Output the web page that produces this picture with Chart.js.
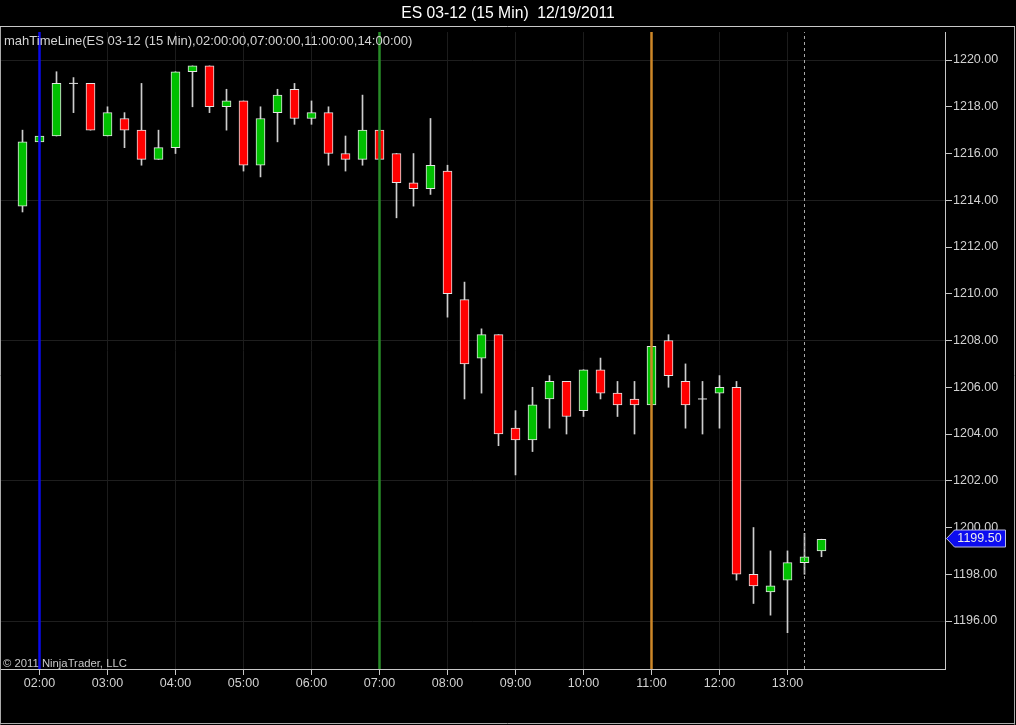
<!DOCTYPE html>
<html>
<head>
<meta charset="utf-8">
<style>
html,body{margin:0;padding:0;background:#000;overflow:hidden}
#wrap{position:relative;width:1016px;height:725px}
canvas{display:block}
</style>
<script src="https://cdn.jsdelivr.net/npm/chart.js@4.4.0/dist/chart.umd.min.js"></script>
</head>
<body>
<div id="wrap"><canvas id="c" width="1016" height="725"></canvas></div>
<script>
// ---- data ----
const barTimes = ['01:45','02:00','02:15','02:30','02:45','03:00','03:15','03:30','03:45','04:00','04:15','04:30',
  '04:45','05:00','05:15','05:30','05:45','06:00','06:15','06:30','06:45','07:00','07:15','07:30',
  '07:45','08:00','08:15','08:30','08:45','09:00','09:15','09:30','09:45','10:00','10:15','10:30',
  '10:45','11:00','11:15','11:30','11:45','12:00','12:15','12:30','12:45','13:00','13:15','13:30'];
const opens = [1213.75,1216.50,1216.75,1219.00,1219.00,1216.75,1217.50,1217.00,1215.75,1216.25,1219.50,1219.75,
  1218.00,1218.25,1215.50,1217.75,1218.75,1217.50,1217.75,1216.00,1215.75,1217.00,1216.00,1214.75,
  1214.50,1215.25,1209.75,1207.25,1208.25,1204.25,1203.75,1205.50,1206.25,1205.00,1206.75,1205.75,
  1205.50,1205.25,1208.00,1206.25,1205.50,1205.75,1206.00,1198.00,1197.25,1197.75,1198.50,1199.00];
const highs = [1217.00,1216.75,1219.50,1219.25,1219.00,1218.00,1217.75,1219.00,1217.00,1219.50,1219.75,1219.75,
  1218.75,1218.25,1218.00,1218.75,1219.00,1218.25,1218.00,1216.75,1218.50,1217.00,1216.00,1216.00,
  1217.50,1215.50,1210.50,1208.50,1208.25,1205.00,1206.00,1206.50,1206.25,1206.75,1207.25,1206.25,
  1206.25,1207.75,1208.25,1207.00,1206.25,1206.50,1206.25,1200.00,1199.00,1199.00,1199.75,1199.50];
const lows = [1213.50,1216.50,1216.75,1217.75,1217.00,1216.75,1216.25,1215.50,1215.75,1216.00,1218.00,1217.75,
  1217.00,1215.25,1215.00,1216.50,1217.25,1217.25,1215.50,1215.25,1215.50,1215.75,1213.25,1213.75,
  1214.25,1209.00,1205.50,1205.75,1203.50,1202.25,1203.25,1204.25,1204.00,1204.75,1205.50,1204.75,
  1204.00,1205.25,1206.00,1204.25,1204.00,1204.25,1197.75,1196.75,1196.25,1195.50,1198.00,1198.75];
const closes = [1216.50,1216.75,1219.00,1219.00,1217.00,1217.75,1217.00,1215.75,1216.25,1219.50,1219.75,1218.00,
  1218.25,1215.50,1217.50,1218.50,1217.50,1217.75,1216.00,1215.75,1217.00,1215.75,1214.75,1214.50,
  1215.50,1210.00,1207.00,1208.25,1204.00,1203.75,1205.25,1206.25,1204.75,1206.75,1205.75,1205.25,
  1205.25,1207.75,1206.50,1205.25,1205.50,1206.00,1198.00,1197.50,1197.50,1198.50,1198.75,1199.50];
const xTickLabels = ['02:00','03:00','04:00','05:00','06:00','07:00','08:00','09:00','10:00','11:00','12:00','13:00'];
const yTickLabels = ['1196.00','1198.00','1200.00','1202.00','1204.00','1206.00','1208.00','1210.00','1212.00','1214.00','1216.00','1218.00','1220.00'];
const timeLineTimes = ['02:00','07:00','11:00'];
const cursorTime = '13:15';
const chartTitle = 'ES 03-12 (15 Min)  12/19/2011';
const indicatorLabel = 'mahTimeLine(ES 03-12 (15 Min),02:00:00,07:00:00,11:00:00,14:00:00)';
const copyrightLabel = '\u00A9 2011 NinjaTrader, LLC';

// ---- helpers ----
const toMin = s => { const p = s.split(':'); return (+p[0]) * 60 + (+p[1]); };
const xs = barTimes.map(toMin);
const xTickValues = xTickLabels.map(toMin);
const yTickValues = yTickLabels.map(parseFloat);
const FONT = '"Liberation Sans", Arial, sans-serif';

// axis ranges (view window)
const X_MIN = 85.147, X_MAX = 918.971;
const Y_MIN = 1193.947, Y_MAX = 1221.198;

const GREEN = 'rgb(0,192,0)', RED = 'rgb(255,0,0)';

const wickData = xs.map((t, i) => ({x: t, y: [lows[i], highs[i]]}));
const bodyData = [], bodyColors = [];
xs.forEach((t, i) => {
  if (opens[i] !== closes[i]) {
    bodyData.push({x: t, y: [opens[i], closes[i]]});
    bodyColors.push(closes[i] > opens[i] ? GREEN : RED);
  }
});
const dojiData = xs.map((t, i) => ({x: t, y: closes[i], d: opens[i] === closes[i]})).filter(p => p.d);

const vLineColors = ['rgb(10,10,235)', 'rgb(40,140,40)', 'rgb(205,135,40)'];
const vLineSets = timeLineTimes.map((s, k) => ({
  type: 'line', label: 'tl' + k,
  data: [{x: toMin(s), y: Y_MIN}, {x: toMin(s), y: Y_MAX}],
  borderColor: vLineColors[k], borderWidth: 2.5, pointRadius: 0, pointHoverRadius: 0, order: 0
}));

const framePlugin = {
  id: 'frame',
  beforeDraw(chart) {
    const c = chart.ctx;
    c.save();
    c.fillStyle = '#000';
    c.fillRect(0, 0, chart.width, chart.height);
    c.restore();
  },
  afterDraw(chart) {
    const c = chart.ctx;
    c.save();
    // outer frame
    c.strokeStyle = 'rgb(200,200,200)';
    c.lineWidth = 1;
    c.beginPath();
    c.moveTo(0, 26.5); c.lineTo(1015, 26.5);
    c.stroke();
    c.strokeStyle = 'rgb(170,170,170)';
    c.beginPath();
    c.moveTo(0.5, 27); c.lineTo(0.5, 724.5);
    c.moveTo(1014.5, 27); c.lineTo(1014.5, 724.5);
    c.moveTo(0, 723.5); c.lineTo(1015, 723.5);
    c.stroke();
    // texts
    c.fillStyle = 'rgb(212,212,212)';
    c.font = '13px ' + FONT;
    c.textAlign = 'left';
    c.textBaseline = 'alphabetic';
    c.fillText(indicatorLabel, 4, 45);
    c.fillStyle = 'rgb(200,200,200)';
    c.font = '11.3px ' + FONT;
    c.fillText(copyrightLabel, 3, 666.5);
    // last price flag
    const ys = chart.scales.y;
    const last = closes[closes.length - 1];
    const yc = Math.round(ys.getPixelForValue(last)) - 0.5;
    c.beginPath();
    c.moveTo(946.5, yc);
    c.lineTo(954.5, yc - 8.5);
    c.lineTo(1005.5, yc - 8.5);
    c.lineTo(1005.5, yc + 8.5);
    c.lineTo(954.5, yc + 8.5);
    c.closePath();
    c.fillStyle = 'rgb(12,12,240)';
    c.fill();
    c.strokeStyle = 'rgb(190,190,220)';
    c.stroke();
    c.fillStyle = 'rgb(235,235,235)';
    c.font = '12.5px ' + FONT;
    c.textAlign = 'center';
    c.textBaseline = 'middle';
    c.fillText(last.toFixed(2), 979.5, yc + 0.5);
    c.restore();
  }
};

new Chart(document.getElementById('c'), {
  type: 'bar',
  data: {
    datasets: [
      {type: 'bar', label: 'wicks', data: wickData, backgroundColor: 'rgb(205,205,205)', borderWidth: 0,
       barThickness: 1, grouped: false, order: 3},
      {type: 'bar', label: 'bodies', data: bodyData, backgroundColor: bodyColors, borderColor: 'rgb(228,228,228)',
       borderWidth: 1, borderSkipped: false, barThickness: 9, grouped: false, order: 2},
      {type: 'scatter', label: 'doji', data: dojiData, pointStyle: 'line', pointRadius: 4.5, pointHoverRadius: 4.5,
       borderColor: 'rgb(220,220,220)', borderWidth: 1, showLine: false, order: 1},
      ...vLineSets,
      {type: 'line', label: 'cursor', data: [{x: toMin(cursorTime), y: Y_MIN}, {x: toMin(cursorTime), y: Y_MAX}],
       borderColor: 'rgb(170,170,170)', borderWidth: 1, borderDash: [3, 3], pointRadius: 0, pointHoverRadius: 0, order: 0}
    ]
  },
  options: {
    responsive: false,
    devicePixelRatio: 1,
    animation: false,
    events: [],
    layout: {padding: 0, autoPadding: false},
    plugins: {
      legend: {display: false},
      tooltip: {enabled: false},
      title: {display: true, text: chartTitle, color: '#ffffff',
              font: {family: FONT, size: 15.7, weight: 'normal'}, padding: {top: 4.2, bottom: 9}}
    },
    scales: {
      x: {
        type: 'linear', min: X_MIN, max: X_MAX, offset: false,
        afterBuildTicks: s => { s.ticks = xTickValues.map(v => ({value: v})); },
        afterFit: s => { s.height = 56; s.paddingLeft = 0; s.paddingRight = 0; },
        ticks: {autoSkip: false, maxRotation: 0, minRotation: 0, color: 'rgb(210,210,210)',
                font: {family: FONT, size: 12.5}, padding: 1,
                callback: v => xTickLabels[xTickValues.indexOf(v)]},
        grid: {color: 'rgb(28,28,28)', tickColor: 'rgb(200,200,200)', tickLength: 6, offset: false},
        border: {color: 'rgb(200,200,200)', width: 1}
      },
      y: {
        type: 'linear', position: 'right', min: Y_MIN, max: Y_MAX, beginAtZero: false,
        afterBuildTicks: s => { s.ticks = yTickValues.map(v => ({value: v})); },
        afterFit: s => { s.width = 71; s.paddingTop = 0; s.paddingBottom = 0; },
        ticks: {color: 'rgb(210,210,210)', font: {family: FONT, size: 12.5}, padding: 1,
                callback: v => yTickLabels[yTickValues.indexOf(v)]},
        grid: {
          color: ctx => (ctx.tick && Math.round((ctx.tick.value - 1196) * 4) % 24 === 0) ? 'rgb(30,30,30)' : 'rgba(0,0,0,0)',
          tickColor: 'rgb(200,200,200)', tickLength: 7
        },
        border: {color: 'rgb(200,200,200)', width: 1}
      }
    }
  },
  plugins: [framePlugin]
});
</script>
</body>
</html>
